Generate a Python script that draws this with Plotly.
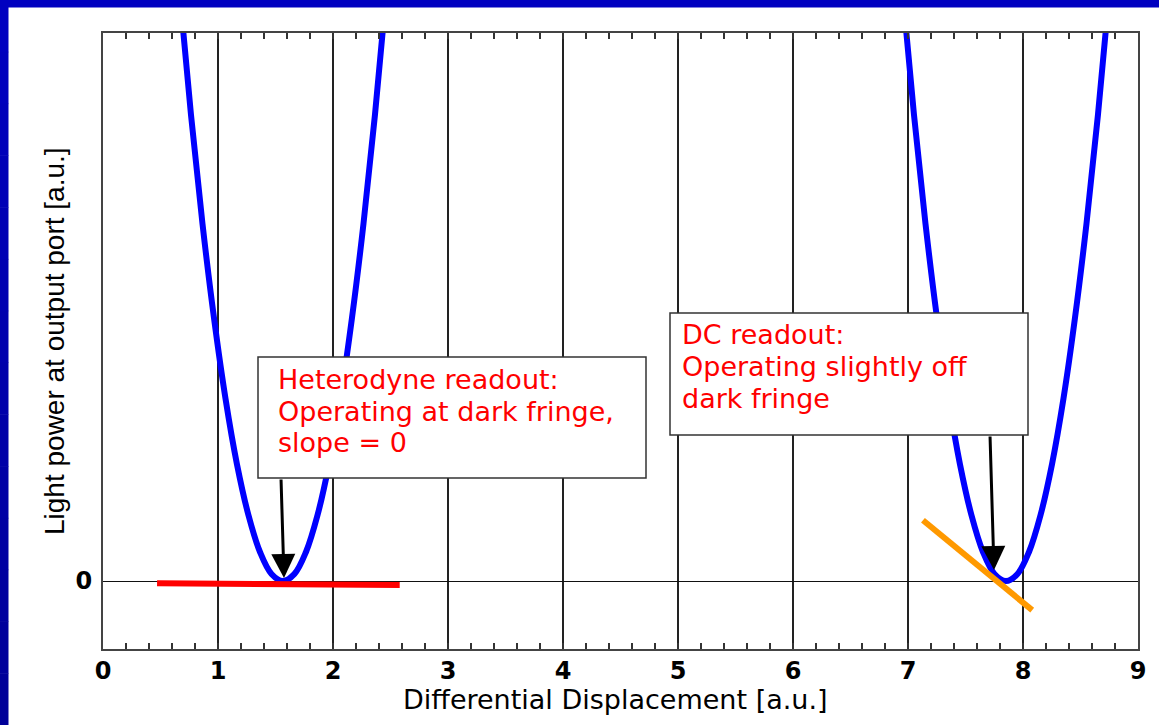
import plotly.graph_objects as go

# ---------------- data ----------------
curve1_x = [0.665, 0.765, 0.865, 0.965, 1.065, 1.165, 1.265, 1.365, 1.465, 1.565,
            1.665, 1.765, 1.865, 1.965, 2.065, 2.165, 2.265, 2.365, 2.465]
curve2_x = [6.952, 7.052, 7.152, 7.252, 7.352, 7.452, 7.552, 7.652, 7.752, 7.852,
            7.952, 8.052, 8.152, 8.252, 8.352, 8.452, 8.552, 8.652, 8.752]
curve_y = [1.077, 0.851, 0.652, 0.48, 0.333, 0.213, 0.12, 0.053, 0.013, 0.0,
           0.013, 0.053, 0.12, 0.213, 0.333, 0.48, 0.652, 0.851, 1.077]

red_x = [0.47, 2.58]
red_y = [-0.004, -0.007]
orange_x = [7.13, 8.08]
orange_y = [0.111, -0.053]

x_ticks = [0, 1, 2, 3, 4, 5, 6, 7, 8, 9]
x_ticklabels = ["0", "1", "2", "3", "4", "5", "6", "7", "8", "9"]
y_ticks = [0]
y_ticklabels = ["0"]

x_title = "Differential Displacement [a.u.]"
y_title = "Light power at output port [a.u.]"
box1_lines = ["Heterodyne readout:", "Operating at dark fringe,", "slope = 0"]
box2_lines = ["DC readout:", "Operating slightly off", "dark fringe"]

# ---------------- layout geometry ----------------
W, H = 1159, 725
L, R, T, B = 103, 21, 33, 76
X_RANGE = [0, 9]
Y_RANGE = [-0.124, 1.0]
PW = W - L - R
PH = H - T - B


def dx(px):
    return X_RANGE[0] + (px - L) / PW * (X_RANGE[1] - X_RANGE[0])


def dy(py):
    return Y_RANGE[1] - (py - T) / PH * (Y_RANGE[1] - Y_RANGE[0])


def paper_x(px):
    return (px - L) / PW


def paper_y(py):
    return (H - B - py) / PH


TEXT_FONT = "DejaVu Sans"
TEXT_SIZE = 27

fig = go.Figure()

fig.add_trace(go.Scatter(x=curve1_x, y=curve_y, mode="lines",
                         line=dict(color="#0000FF", width=6, shape="spline"),
                         hoverinfo="skip", showlegend=False))
fig.add_trace(go.Scatter(x=curve2_x, y=curve_y, mode="lines",
                         line=dict(color="#0000FF", width=6, shape="spline"),
                         hoverinfo="skip", showlegend=False))
fig.add_trace(go.Scatter(x=red_x, y=red_y, mode="lines",
                         line=dict(color="#FF0000", width=6),
                         hoverinfo="skip", showlegend=False))
fig.add_trace(go.Scatter(x=orange_x, y=orange_y, mode="lines",
                         line=dict(color="#FF9900", width=6),
                         hoverinfo="skip", showlegend=False))

shapes = []
# annotation boxes
for (x0p, x1p, y0p, y1p) in [(258, 646, 357, 478), (670, 1028, 313, 435)]:
    shapes.append(dict(type="rect", xref="x", yref="y", layer="above",
                       x0=dx(x0p), x1=dx(x1p), y0=dy(y1p), y1=dy(y0p),
                       fillcolor="white", line=dict(color="#333333", width=1.5)))

# blue slide frame (top and left)
shapes.append(dict(type="rect", xref="paper", yref="paper", layer="above",
                   x0=paper_x(0), x1=paper_x(W), y0=paper_y(7.5), y1=paper_y(0),
                   fillcolor="#0000C0", line=dict(width=0)))
n_seg = 14
for i in range(n_seg):
    t0 = i / n_seg
    c = int(round(192 - (192 - 150) * t0))
    shapes.append(dict(type="rect", xref="paper", yref="paper", layer="above",
                       x0=paper_x(0), x1=paper_x(8.5),
                       y0=paper_y(H * (i + 1) / n_seg + 0.5), y1=paper_y(H * i / n_seg),
                       fillcolor=f"rgb(0,0,{c})", line=dict(width=0)))

annotations = []
# box texts
for lines, left_px, baselines in [(box1_lines, 276.5, [390, 422, 453]),
                                  (box2_lines, 680.5, [345, 377, 409])]:
    for txt, bl in zip(lines, baselines):
        annotations.append(dict(x=dx(left_px), y=dy(bl + 0.236 * TEXT_SIZE),
                                xref="x", yref="y", xanchor="left", yanchor="bottom",
                                text=txt, showarrow=False, borderpad=0,
                                font=dict(family=TEXT_FONT, size=TEXT_SIZE, color="#FF0000")))

# arrows
for (tail, tip) in [((281, 478), (284, 578)), ((990, 435), (994, 570))]:
    annotations.append(dict(x=dx(tip[0]), y=dy(tip[1]), ax=dx(tail[0]), ay=dy(tail[1]),
                            xref="x", yref="y", axref="x", ayref="y",
                            text="", showarrow=True, arrowhead=2, arrowsize=1.6,
                            arrowwidth=3, arrowcolor="black", standoff=0))

# axis titles
annotations.append(dict(x=paper_x(615), y=paper_y(710 + 0.236 * TEXT_SIZE),
                        xref="paper", yref="paper", xanchor="center", yanchor="bottom",
                        text=x_title, showarrow=False, borderpad=0,
                        font=dict(family=TEXT_FONT, size=TEXT_SIZE, color="black")))
annotations.append(dict(x=paper_x(54), y=paper_y(341),
                        xref="paper", yref="paper", xanchor="center", yanchor="middle",
                        text=y_title, textangle=-90, showarrow=False, borderpad=0,
                        font=dict(family="Liberation Sans", size=28, color="black")))

fig.update_layout(
    width=W, height=H, autosize=False,
    margin=dict(l=L, r=R, t=T, b=B, pad=0),
    paper_bgcolor="white", plot_bgcolor="white",
    shapes=shapes, annotations=annotations,
    showlegend=False,
    xaxis=dict(range=X_RANGE, tickvals=x_ticks, ticktext=x_ticklabels,
               showgrid=True, gridcolor="#222222", gridwidth=1.5, zeroline=False,
               showline=True, linecolor="#444444", linewidth=2, mirror="ticks",
               ticks="inside", ticklen=6, tickwidth=1.5, tickcolor="#333333",
               ticklabelstandoff=-1,
               minor=dict(dtick=0.2, ticks="inside", ticklen=6, tickwidth=1.5,
                          tickcolor="#333333", showgrid=False),
               tickfont=dict(family=TEXT_FONT, size=24, color="black", weight="bold"),
               fixedrange=True),
    yaxis=dict(range=Y_RANGE, tickvals=y_ticks, ticktext=y_ticklabels,
               showgrid=True, gridcolor="#111111", gridwidth=1.2, zeroline=False,
               showline=True, linecolor="#444444", linewidth=2, mirror=True,
               ticks="", ticklabelstandoff=4,
               tickfont=dict(family=TEXT_FONT, size=24, color="black", weight="bold"),
               fixedrange=True),
)

fig.write_html("out.html", config=dict(displayModeBar=False))
